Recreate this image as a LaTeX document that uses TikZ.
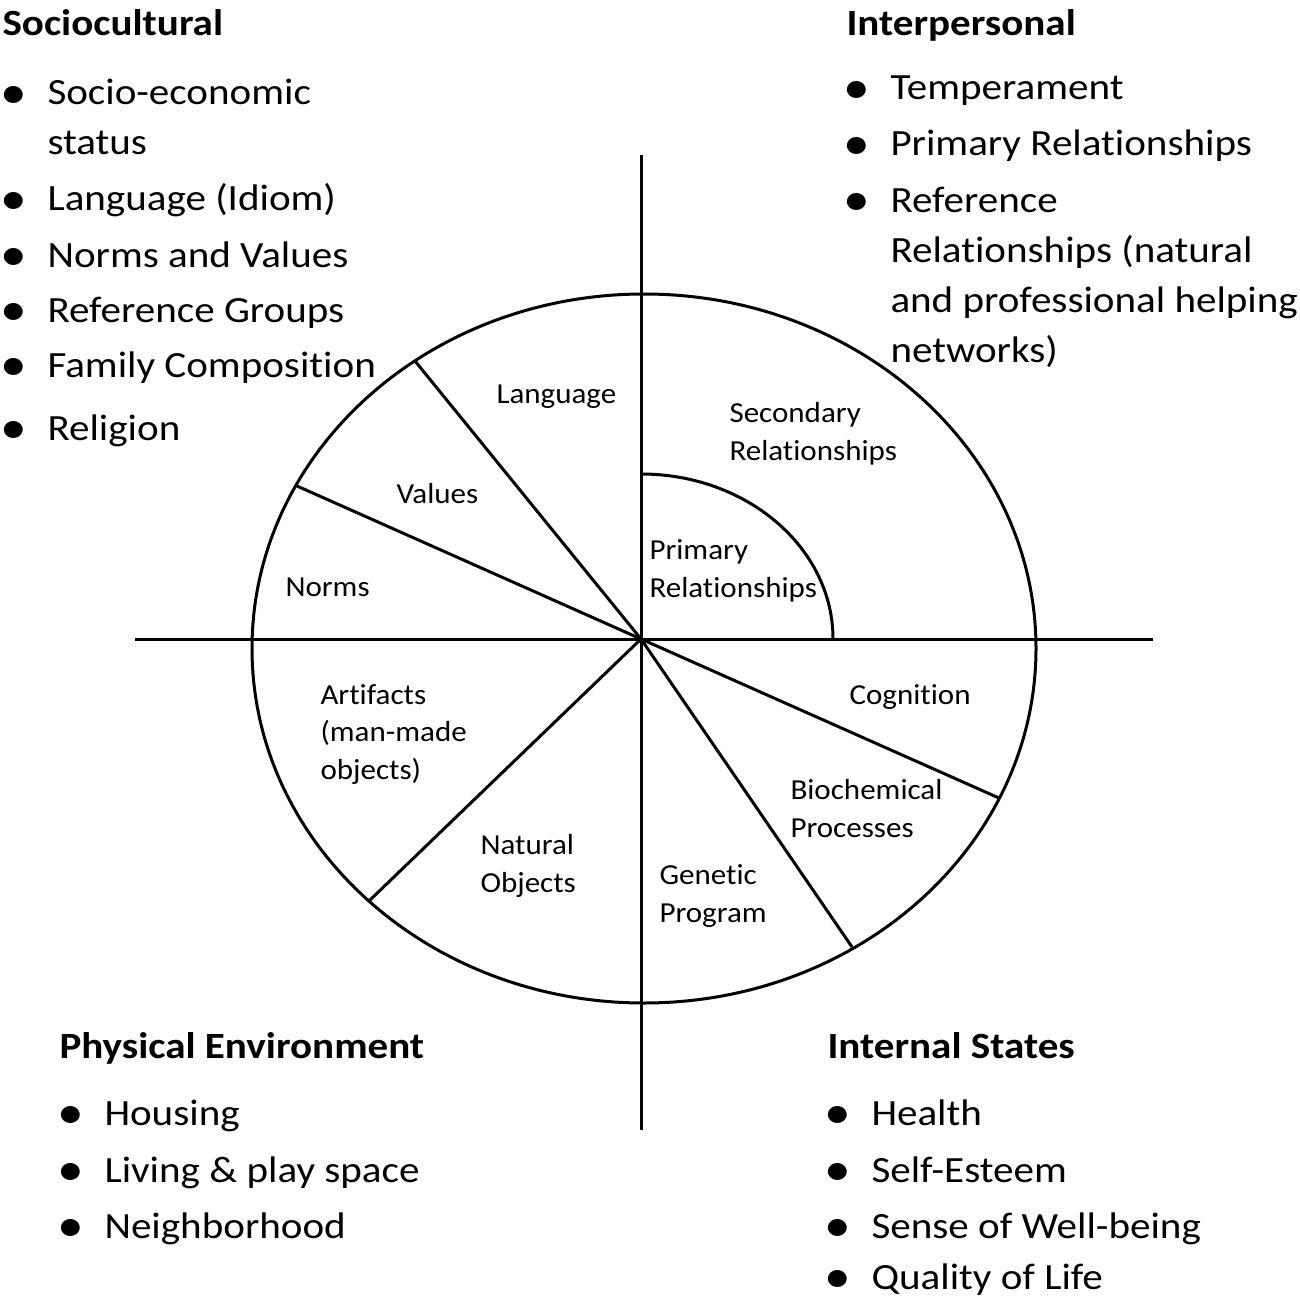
\documentclass[tikz,border=0pt]{standalone}
\usepackage{fontspec}
\usepackage{graphicx}
\setmainfont[Ligatures=CommonOff]{Carlito}
\newfontfamily\bigfont[FakeStretch=1.11,Ligatures=CommonOff]{Carlito}
\newfontfamily\labfont[FakeStretch=1.07,Ligatures=CommonOff]{Carlito}
\begin{document}
\begin{tikzpicture}[x=1pt,y=-1pt,
  line width=3pt,
  big/.style={inner sep=0pt, anchor=base west, align=left, font=\bigfont\fontsize{37}{50}\selectfont},
  head/.style={inner sep=0pt, anchor=base west, font=\bigfont\fontsize{37}{50}\selectfont\bfseries},
  lab/.style={inner sep=0pt, anchor=base west, align=left, font=\labfont\fontsize{29}{37.5}\selectfont}]
\newcommand{\bul}{\llap{\makebox[68pt]{\raisebox{-3.6pt}{\scalebox{1.3}{•}}}}}
\useasboundingbox (0,0) rectangle (1300,1300);
% wheel
\coordinate (c) at (641,639);
\coordinate (vt) at (641,155);
\coordinate (vb) at (641,1130);
\coordinate (hl) at (135,639);
\coordinate (hr) at (1153,639);
\draw (644,648.5) ellipse [x radius=392pt, y radius=354.5pt];
\draw (vt) -- (vb);
\draw (hl) -- (hr);
\coordinate (p1) at (415,361);
\coordinate (p2) at (297,486);
\coordinate (p3) at (999,798);
\coordinate (p4) at (852,947);
\coordinate (p5) at (370,900);
\foreach \p in {p1,p2,p3,p4,p5} \draw (c) -- (\p);
\coordinate (a0) at (641,474);
\draw (a0) arc[start angle=90, end angle=0, x radius=192pt, y radius=165pt];
% inner labels (anchor = baseline of last line)
\node[lab] (lang) at (495,403) {Language};
\node[lab] (val) at (395,503) {Values};
\node[lab] (norm) at (284,596) {Norms};
\node[lab] (sec) at (728,460) {Secondary\\Relationships};
\node[lab] (prim) at (648,597) {Primary\\Relationships};
\node[lab] (cog) at (848,704) {Cognition};
\node[lab] (bio) at (789,837) {Biochemical\\Processes};
\node[lab] (gen) at (658,922) {Genetic\\Program};
\node[lab] (art) at (319,779) {Artifacts\\(man-made\\objects)};
\node[lab] (nat) at (479,892) {Natural\\Objects};
% Sociocultural
\node[head] (sh) at (1,36) {Sociocultural};
\node[big] (s1) at (46,155) {\bul Socio-economic\\status};
\node[big] (s2) at (46,211) {\bul Language (Idiom)};
\node[big] (s3) at (46,267) {\bul Norms and Values};
\node[big] (s4) at (46,322) {\bul Reference Groups};
\node[big] (s5) at (46,377) {\bul Family Composition};
\node[big] (s6) at (46,440) {\bul Religion};
% Interpersonal
\node[head] (ih) at (845,36) {Interpersonal};
\node[big] (i1) at (889,100) {\bul Temperament};
\node[big] (i2) at (889,156) {\bul Primary Relationships};
\node[big] (i3) at (889,362) {\bul Reference\\Relationships (natural\\and professional helping\\networks)};
% Physical Environment
\node[head] (ph) at (58,1058) {Physical Environment};
\node[big] (ph1) at (103,1125) {\bul Housing};
\node[big] (ph2) at (103,1182) {\bul Living \& play space};
\node[big] (ph3) at (103,1238) {\bul Neighborhood};
% Internal States
\node[head] (ish) at (826,1058) {Internal States};
\node[big] (is1) at (870,1125) {\bul Health};
\node[big] (is2) at (870,1182) {\bul Self-Esteem};
\node[big] (is3) at (870,1238) {\bul Sense of Well-being};
\node[big] (is4) at (870,1289) {\bul Quality of Life};
\end{tikzpicture}
\end{document}
